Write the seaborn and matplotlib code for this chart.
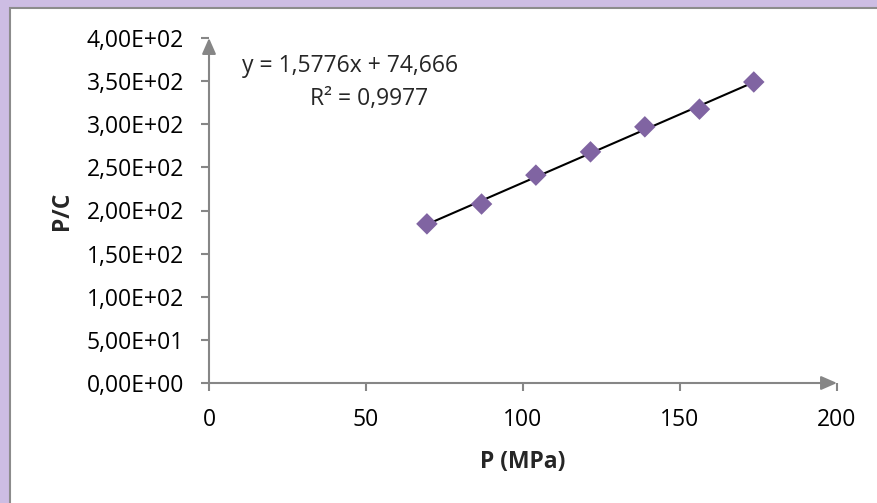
import numpy as np
import pandas as pd
import seaborn as sns
import matplotlib.pyplot as plt
from matplotlib.patches import Rectangle
from matplotlib.ticker import FuncFormatter

# data
pressure = [69.4, 86.8, 104.1, 121.5, 138.8, 156.2, 173.5]
p_over_c = [184.5, 207.5, 241.0, 268.0, 297.0, 317.5, 349.0]
x_ticks = [0, 50, 100, 150, 200]
y_ticks = [0, 50, 100, 150, 200, 250, 300, 350, 400]
equation = "y = 1,5776x + 74,666"
r_squared = "R² = 0,9977"

df = pd.DataFrame({"P": pressure, "PC": p_over_c})

sns.set_theme(style="white")
plt.rcParams['font.family'] = ['Open Sans', 'DejaVu Sans']

gray = "#868686"
purple = "#8064A2"
fs = 16.5

fig = plt.figure(figsize=(8.77, 5.03), dpi=100, facecolor="#CDBDE3")
W, H = 877, 503
# white chart area with gray edge (frame cropped at right/bottom)
fig.patches.append(Rectangle((9.5 / W, -0.05), 1.2, (H - 7.5) / H + 0.05,
                             transform=fig.transFigure, facecolor="white",
                             edgecolor="#8C8C8C", lw=1.5, zorder=-5))

ax = fig.add_axes([209 / W, 1 - 383 / H, (837 - 209) / W, (383 - 38) / H])
ax.set_facecolor("none")

sns.regplot(data=df, x="P", y="PC", ax=ax, ci=None, scatter=False,
            line_kws={"color": "black", "lw": 1.5, "zorder": 2})
sns.scatterplot(data=df, x="P", y="PC", ax=ax, marker="D", s=120,
                color=purple, edgecolor="none", zorder=3)

ax.set_xlim(0, 200)
ax.set_ylim(0, 400)
ax.set_xticks(x_ticks)
ax.set_yticks(y_ticks)
ax.yaxis.set_major_formatter(FuncFormatter(lambda v, p: f"{v:.2E}".replace(".", ",")))

for s in ax.spines.values():
    s.set_visible(False)
ax.tick_params(axis="both", which="both", bottom=True, left=True, length=6,
               width=1.5, color=gray, labelsize=fs, labelcolor="black",
               direction="out")
ax.tick_params(axis="x", pad=12)
ax.tick_params(axis="y", pad=12)

# axis lines with arrow heads
arrow = dict(arrowstyle="-|>,head_length=0.8,head_width=0.35", color=gray, lw=1.5,
             shrinkA=0, shrinkB=0)
ax.annotate("", xy=(1, 0), xytext=(0, 0), xycoords="axes fraction", arrowprops=arrow)
ax.annotate("", xy=(0, 1), xytext=(0, 0), xycoords="axes fraction", arrowprops=arrow)

ax.set_xlabel("P (MPa)", fontsize=fs, fontweight="bold", labelpad=13)
ax.set_ylabel("P/C", fontsize=fs, fontweight="bold", labelpad=9)

ax.text(45, 367, equation, fontsize=fs, ha="center", va="center")
ax.text(51, 329, r_squared, fontsize=fs, ha="center", va="center")

fig.savefig("out.png", dpi=100)
